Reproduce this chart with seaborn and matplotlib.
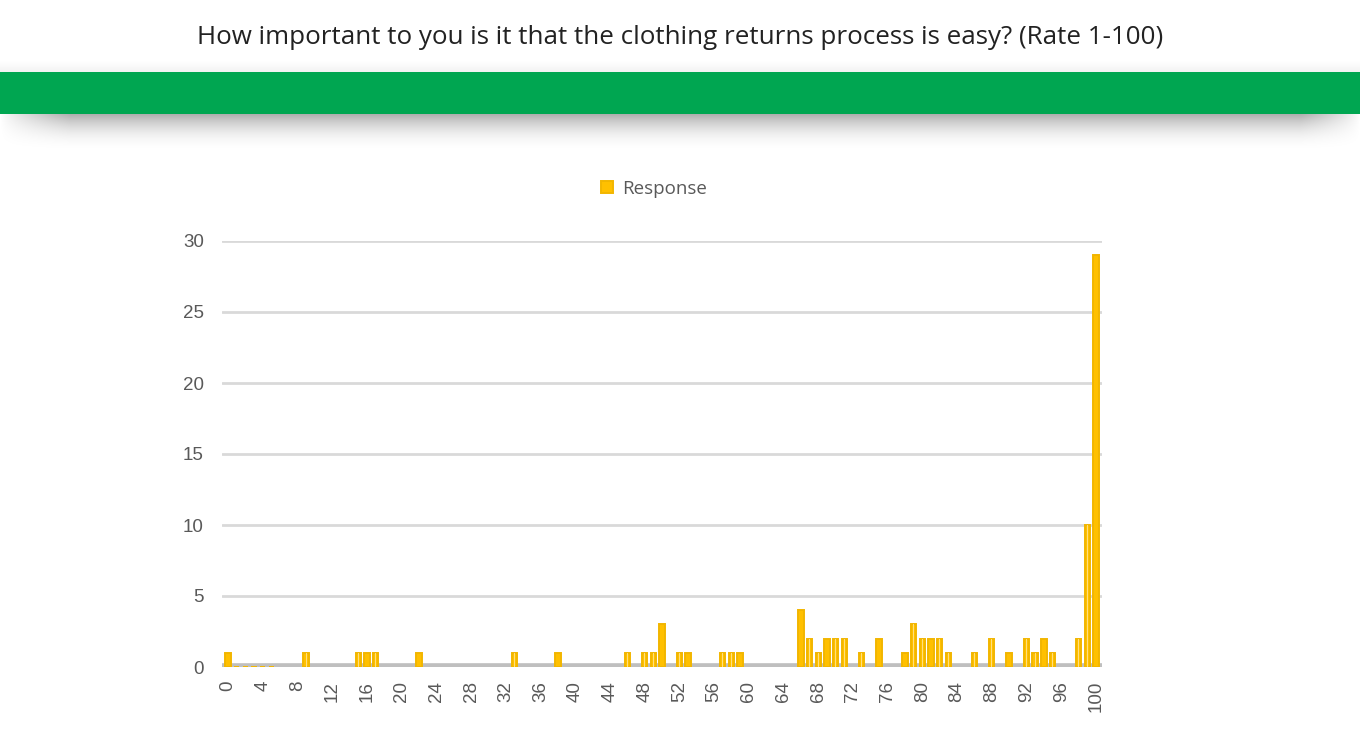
import matplotlib.pyplot as plt
import numpy as np
import pandas as pd
import seaborn as sns
from matplotlib.patches import Rectangle

# ratings that received answers, and how many answers each got
scores = [0, 1, 2, 3, 4, 5, 9, 15, 16, 17, 22, 33, 38, 46, 48, 49, 50, 52, 53,
          57, 58, 59, 66, 67, 68, 69, 70, 71, 73, 75, 78, 79, 80, 81, 82, 83,
          86, 88, 90, 92, 93, 94, 95, 98, 99, 100]
responses = [1, 0, 0, 0, 0, 0, 1, 1, 1, 1, 1, 1, 1, 1, 1, 1, 3, 1, 1,
             1, 1, 1, 4, 2, 1, 2, 2, 2, 1, 2, 1, 3, 2, 2, 2, 1,
             1, 2, 1, 2, 1, 2, 1, 2, 10, 29]
x_ticks = list(range(0, 101, 4))
y_ticks = [0, 5, 10, 15, 20, 25, 30]

title = "How important to you is it that the clothing returns process is easy? (Rate 1-100)"

df = pd.DataFrame({"score": scores, "Response": responses})

sns.set_theme(style="white")
plt.rcParams["font.family"] = ["Liberation Sans", "DejaVu Sans"]

W, H = 1360, 745
fig = plt.figure(figsize=(W / 100, H / 100), dpi=100)

# header: title + green band with a soft shadow
fig.text(0.5, 1 - 38 / H, title, ha="center", va="center", fontsize=18.7,
         color="#222222", family=["Open Sans", "DejaVu Sans"])
fig.patches.append(Rectangle((0, 1 - 114 / H), 1, 42 / H, transform=fig.transFigure,
                             facecolor="#00A651", edgecolor="none", zorder=2))
shadow_ax = fig.add_axes([0, 1 - 154 / H, 1, 40 / H])
grad = np.linspace(1.0, 0.0, 60)[:, None] ** 2.2 * 0.32
xs = np.arange(1360)
fade = np.clip(xs / 70.0, 0, 1) * np.clip((1360 - xs) / 60.0, 0, 1)
shade = grad * fade[None, :] ** 0.8
rgba = np.zeros(shade.shape + (4,))
rgba[..., 3] = shade
shadow_ax.imshow(rgba, aspect="auto", extent=(0, 1, 0, 1))
shadow_ax.axis("off")
top_ax = fig.add_axes([0, 1 - 72 / H, 1, 12 / H])
g2 = np.linspace(0.0, 0.05, 20)[:, None] * np.ones((1, 10))
rgba2 = np.zeros(g2.shape + (4,))
rgba2[..., 3] = g2
top_ax.imshow(rgba2, aspect="auto", extent=(0, 1, 0, 1))
top_ax.axis("off")

# chart area
ax = fig.add_axes([222 / W, 1 - 667 / H, 880 / W, 426 / H])

sns.barplot(data=df, x="score", y="Response", native_scale=True, width=0.62,
            color="#FFC000", edgecolor="#F2B600", linewidth=1.4, saturation=1,
            errorbar=None, ax=ax, zorder=3, label="Response")
sns.barplot(data=df, x="score", y="Response", native_scale=True, width=0.08,
            color="#FFDF80", linewidth=0, saturation=1,
            errorbar=None, ax=ax, zorder=4)

ax.set_xlim(-0.7, 100.7)
ax.set_ylim(0, 30)
ax.set_yticks(y_ticks)
ax.set_xticks(x_ticks)
ax.set_xticklabels([str(t) for t in x_ticks], rotation=90)
ax.tick_params(axis="both", length=0, labelsize=13.5, labelcolor="#595959")
ax.tick_params(axis="y", pad=13)
ax.tick_params(axis="x", pad=10)
for y in y_ticks[1:]:
    ax.axhline(y, color="#D9D9D9", lw=2, zorder=1)
ax.axhline(0, color="#BFBFBF", lw=5.5, zorder=2, solid_capstyle="round")
for s in ax.spines.values():
    s.set_visible(False)
ax.set_xlabel("")
ax.set_ylabel("")

handles, labels = ax.get_legend_handles_labels()
fig.legend(handles[:1], ["Response"], loc="center", bbox_to_anchor=(654 / W, 1 - 189 / H),
           frameon=False, labelcolor="#595959", handlelength=0.6,
           handleheight=0.6, handletextpad=0.5,
           prop={"family": ["Open Sans", "DejaVu Sans"], "size": 13.5})
if ax.get_legend() is not None:
    ax.get_legend().remove()

fig.savefig("out.png", dpi=100)
